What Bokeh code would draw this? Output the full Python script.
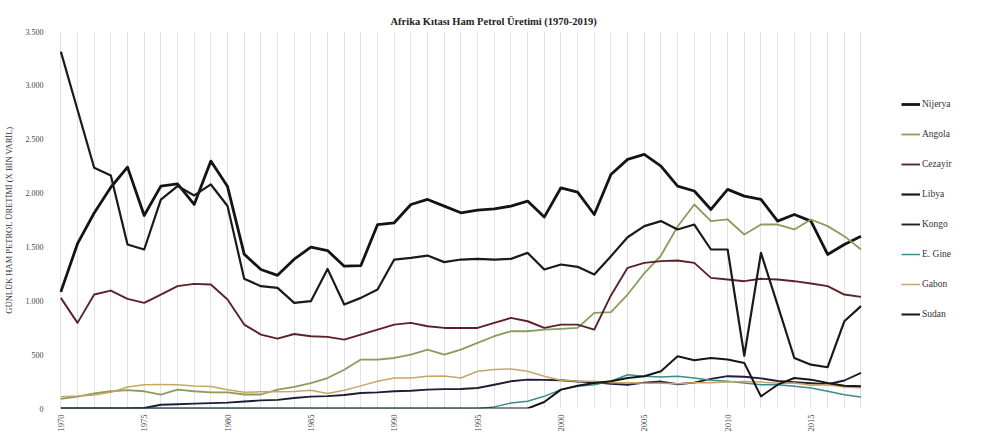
import math
from bokeh.plotting import figure
from bokeh.models import Range1d, FixedTicker, Legend, LegendItem, Title
from bokeh.embed import file_html
from bokeh.resources import INLINE

years = list(range(1970, 2019))

nijerya = [1083, 1530, 1815, 2054, 2241, 1792, 2065, 2085, 1894, 2297,
           2060, 1433, 1290, 1236, 1386, 1498, 1466, 1321, 1327, 1708,
           1724, 1894, 1941, 1879, 1817, 1842, 1854, 1879, 1926, 1777,
           2049, 2009, 1801, 2173, 2313, 2359, 2251, 2065, 2019, 1848,
           2034, 1972, 1941, 1740, 1801, 1740, 1430, 1523, 1600]
angola = [90, 110, 140, 160, 170, 160, 128, 175, 160, 150,
          150, 130, 130, 175, 200, 235, 283, 360, 454, 454,
          469, 500, 546, 500, 546, 609, 671, 717, 717, 732,
          739, 748, 888, 894, 1058, 1255, 1420, 1690, 1894, 1740,
          1755, 1615, 1708, 1708, 1662, 1755, 1693, 1600, 1476]
cezayir = [1027, 795, 1058, 1095, 1018, 981, 1058, 1136, 1157, 1151,
           1012, 779, 686, 649, 692, 671, 665, 640, 686, 732,
           779, 795, 764, 748, 748, 748, 795, 841, 810, 748,
           779, 779, 732, 1050, 1306, 1352, 1368, 1374, 1352, 1213,
           1197, 1182, 1204, 1197, 1182, 1160, 1136, 1058, 1036]
libya = [3313, 2774, 2235, 2164, 1522, 1476, 1940, 2065, 1978, 2080,
         1880, 1204, 1136, 1120, 980, 996, 1296, 965, 1027, 1104,
         1383, 1399, 1420, 1359, 1383, 1389, 1383, 1389, 1445, 1290,
         1337, 1315, 1244, 1414, 1590, 1693, 1740, 1662, 1708, 1476,
         1476, 490, 1445, 960, 469, 407, 383, 810, 950]
kongo = [0, 0, 0, 0, 0, 5, 35, 40, 45, 50,
         55, 65, 75, 80, 98, 110, 115, 125, 144, 150,
         160, 165, 175, 180, 181, 190, 221, 253, 268, 266,
         262, 250, 243, 230, 221, 240, 250, 225, 240, 275,
         300, 295, 280, 255, 245, 235, 225, 260, 330]
egine = [0, 0, 0, 0, 0, 0, 0, 0, 0, 0,
         0, 0, 0, 0, 0, 0, 0, 0, 0, 0,
         0, 0, 0, 0, 0, 0, 15, 51, 67, 113,
         175, 206, 221, 253, 314, 299, 293, 299, 283, 262,
         253, 237, 221, 221, 206, 190, 160, 128, 107]
gabon = [110, 115, 125, 150, 200, 221, 222, 221, 210, 205,
         175, 150, 155, 155, 157, 170, 140, 170, 210, 253,
         283, 283, 299, 302, 283, 346, 361, 367, 346, 299,
         262, 253, 252, 240, 240, 234, 235, 230, 240, 240,
         245, 250, 245, 235, 236, 215, 220, 200, 193]
sudan = [0, 0, 0, 0, 0, 0, 0, 0, 0, 0,
         0, 0, 0, 0, 0, 0, 0, 0, 0, 0,
         0, 0, 0, 0, 0, 0, 0, 0, 0, 60,
         175, 211, 236, 253, 283, 299, 346, 485, 448, 469,
         454, 423, 113, 221, 283, 268, 237, 212, 206]

names = ["Nijerya", "Angola", "Cezayir", "Libya", "Kongo", "E. Gine", "Gabon", "Sudan"]
values = [nijerya, angola, cezayir, libya, kongo, egine, gabon, sudan]
colors = ["#141414", "#8a9d5e", "#5a2226", "#1a1a1a", "#221c36", "#3f8a8f", "#c9a565", "#161616"]
widths = [2.8, 1.8, 1.9, 2.2, 1.9, 1.5, 1.5, 2.0]

x_ticks = [1970, 1975, 1980, 1985, 1990, 1995, 2000, 2005, 2010, 2015]
y_ticks = [0, 500, 1000, 1500, 2000, 2500, 3000, 3500]
y_labels = ["0", "500", "1.000", "1.500", "2.000", "2.500", "3.000", "3.500"]

title_text = "Afrika Kıtası Ham Petrol Üretimi (1970-2019)"
y_title = "GÜNLÜK HAM PETROL ÜRETİMİ (X BİN VARİL)"

FONT = "Liberation Serif"

# frame spans page x 56..960, y 39..416; data area ends at 2018, legend sits in the empty right part
p = figure(frame_width=904, frame_height=377, output_backend="svg", toolbar_location=None,
           x_range=Range1d(1969.62, 2023.85), y_range=Range1d(0, 3500),
           min_border_left=48, min_border_right=13, min_border_top=31, min_border_bottom=0)
p.outline_line_color = None
p.background_fill_color = "white"
p.border_fill_color = "white"

t = Title(text=title_text, align="left", offset=336, text_font=FONT,
          text_font_size="10.5px", text_font_style="bold", text_color="#222222")
p.add_layout(t, "above")

for ax in (p.xaxis[0], p.yaxis[0]):
    ax.major_tick_out = 0
    ax.major_tick_in = 0
    ax.minor_tick_out = 0
    ax.minor_tick_in = 0
    ax.major_tick_line_color = None
    ax.minor_tick_line_color = None
    ax.axis_line_color = None

p.xaxis.ticker = FixedTicker(ticks=x_ticks)
p.xaxis.major_label_orientation = math.pi / 2
p.xaxis.major_label_text_font = FONT
p.xaxis.major_label_text_font_size = "8.5px"
p.xaxis.major_label_text_color = "#444444"
p.xaxis.major_label_standoff = 6

p.yaxis.ticker = FixedTicker(ticks=y_ticks)
p.yaxis.major_label_overrides = {v: s for v, s in zip(y_ticks, y_labels)}
p.yaxis.major_label_text_font = FONT
p.yaxis.major_label_text_font_size = "8px"
p.yaxis.major_label_text_color = "#444444"
p.yaxis.major_label_standoff = 11
p.yaxis.axis_label = y_title
p.yaxis.axis_label_text_font = FONT
p.yaxis.axis_label_text_font_size = "8.5px"
p.yaxis.axis_label_text_font_style = "normal"
p.yaxis.axis_label_text_color = "#333333"
p.yaxis.axis_label_standoff = 9

p.xgrid.ticker = FixedTicker(ticks=years)
p.xgrid.grid_line_color = "#e2e2e2"
p.xgrid.grid_line_width = 1
p.ygrid.grid_line_color = None

items = []
for name, vals, col, w in zip(names, values, colors, widths):
    r = p.line(years, vals, line_color=col, line_width=w, line_join="round")
    items.append(LegendItem(label=name, renderers=[r]))

legend = Legend(items=items, location=(847, 89), orientation="vertical",
                glyph_width=19, glyph_height=10, label_height=10, spacing=20,
                label_standoff=2, padding=0, margin=0,
                label_text_font=FONT, label_text_font_size="9.5px", label_text_color="#333333",
                border_line_color=None, background_fill_alpha=0)
p.add_layout(legend, "center")

open("out.html", "w").write(file_html(p, INLINE))
